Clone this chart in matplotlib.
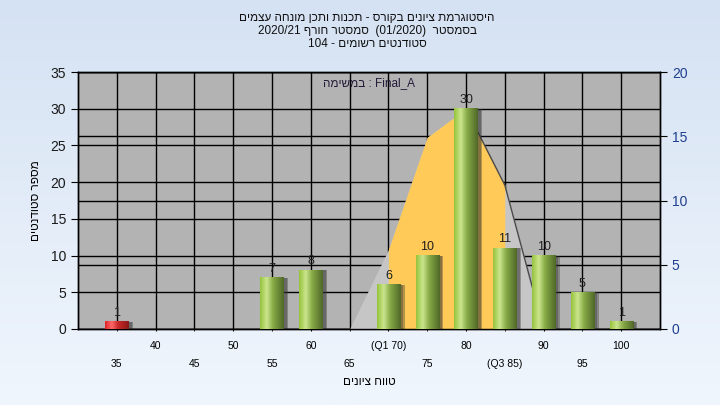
#!/usr/bin/env python3
import re
import numpy as np
import matplotlib
matplotlib.use('Agg')
import matplotlib.pyplot as plt

plt.rcParams['font.family'] = ['Liberation Sans', 'DejaVu Sans']

grades = [35, 40, 45, 50, 55, 60, 65, 70, 75, 80, 85, 90, 95, 100]
counts = [1, 0, 0, 0, 7, 8, 0, 6, 10, 30, 11, 10, 5, 1]
xlabels = ['35', '40', '45', '50', '55', '60', '65', '(Q1 70)', '75', '80',
           '(Q3 85)', '90', '95', '100']
# distribution curve (left axis units)
curve_grades = [65, 70, 75, 80, 85, 90]
curve_vals = [0, 10.8, 26.1, 30, 19.6, 0]
q1, q3 = 70, 85
fail_below = 55

title_lines = ['היסטוגרמת ציונים בקורס - תכנות ותכן מונחה עצמים',
               'בסמסטר  (01/2020)  סמסטר חורף 2020/21',
               'סטודנטים רשומים - 104']
task_text = 'Final_A : במשימה'
xlab = 'טווח ציונים'
ylab = 'מספר סטודנטים'


def rtl(s):
    # poor man's bidi for an RTL paragraph
    r = s[::-1]
    r = re.sub(r'[0-9A-Za-z_/.]+', lambda m: m.group(0)[::-1], r)
    return r.translate(str.maketrans('()', ')('))


fig = plt.figure(figsize=(7.2, 4.05), dpi=100)

# background gradient
bg = fig.add_axes([0, 0, 1, 1], zorder=-10)
g = np.linspace(0, 1, 256)[:, None]
top = np.array([213, 226, 243]) / 255
bot = np.array([240, 246, 253]) / 255
bg.imshow(top + (bot - top) * g[:, :, None], aspect='auto', extent=[0, 1, 0, 1])
bg.axis('off')

pos = [78 / 720, 1 - 329 / 405, 582 / 720, 257 / 405]
ax = fig.add_axes(pos)
ax2 = ax.twinx()
# left axis (bars) on top, right axis gives the grey backdrop
ax2.set_zorder(ax.get_zorder() - 1)
ax.set_zorder(ax2.get_zorder() + 2)
ax.patch.set_visible(False)
ax2.patch.set_visible(True)
ax2.set_facecolor('#b3b3b3')

x = np.arange(len(grades))
ax.set_xlim(-1, len(grades))
ax.set_ylim(0, 35)
ax2.set_ylim(0, 20)
ax.set_yticks(range(0, 36, 5))
ax2.set_yticks(range(0, 21, 5))

# distribution area
cx = [grades.index(v) for v in curve_grades]
ax.fill_between(cx, 0, curve_vals, color='#c6c6c6', lw=0, zorder=1)
i1 = curve_grades.index(q1)
i3 = curve_grades.index(q3)
ax.fill_between(cx[i1:i3 + 1], 0, curve_vals[i1:i3 + 1], color='#ffca57', lw=0, zorder=1.1)
ax.plot(cx[3:], curve_vals[3:], color='#4a4a4a', lw=1, zorder=1.2)

# bars
bw = 0.6
for xi, c in zip(x, counts):
    if c > 0:
        ax.bar(xi + 0.12, c, width=bw, color='#303030', alpha=0.35, zorder=2)
        ax.bar(xi + 0.08, c, width=bw, color='#303030', alpha=0.35, zorder=2)
bars = ax.bar(x, counts, width=bw, color='none', zorder=3)

green = [(0, (150, 196, 60)), (0.28, (203, 229, 140)), (0.55, (135, 170, 70)), (1, (80, 104, 40))]
red = [(0, (225, 35, 40)), (0.28, (255, 105, 105)), (0.55, (200, 40, 40)), (1, (140, 25, 25))]


def grad(stops):
    t = np.linspace(0, 1, 64)
    cols = np.array([[np.interp(tt, [s[0] for s in stops], [s[1][k] for s in stops]) for k in range(3)]
                     for tt in t]) / 255
    return cols[None, :, :]


for b, gr in zip(bars, grades):
    h = b.get_height()
    if h <= 0:
        continue
    stops = red if gr < fail_below else green
    x0 = b.get_x()
    ax.imshow(grad(stops), extent=[x0, x0 + b.get_width(), 0, h], aspect='auto', zorder=3)

ax.set_xlim(-1, len(grades))
ax.set_ylim(0, 35)

ax.bar_label(bars, labels=[str(c) if c else '' for c in counts], padding=2,
             fontsize=9, color='#202020', zorder=4)

# x ticks in two rows
ax.set_xticks(x[1::2])
ax.set_xticklabels(xlabels[1::2])
ax.set_xticks(x[0::2], minor=True)
ax.set_xticklabels(xlabels[0::2], minor=True)
ax.tick_params(axis='x', which='major', length=3, pad=7, labelsize=7.5, direction='inout')
ax.tick_params(axis='x', which='minor', length=3, pad=20, labelsize=7.5, direction='inout')
ax.tick_params(axis='y', length=5, labelsize=10, colors='black', labelcolor='#1a1a1a')
ax2.tick_params(axis='y', length=5, labelsize=10, colors='black', labelcolor='#1f3f8f')

ax2.grid(axis='y', color='black', lw=1)
ax.set_axisbelow(True)
ax.grid(axis='y', color='black', lw=1)
ax.grid(axis='x', which='both', color='black', lw=1)

for a in (ax, ax2):
    for s in a.spines.values():
        s.set_color('black')
        s.set_linewidth(1)

ax.set_xlabel(rtl(xlab), fontsize=8.5, labelpad=5)
ax.set_ylabel(rtl(ylab), fontsize=8.5, labelpad=6)

ax.text(0.5, 0.955, rtl(task_text), transform=ax.transAxes, ha='center', va='center',
        fontsize=8.5, color='#241a3a', zorder=5)

for i, line in enumerate(title_lines):
    fig.text(367 / 720, 1 - (18 + 13 * i) / 405, rtl(line), ha='center', va='center',
             fontsize=8.5, color='#111111')

fig.savefig('out.png', dpi=100)
